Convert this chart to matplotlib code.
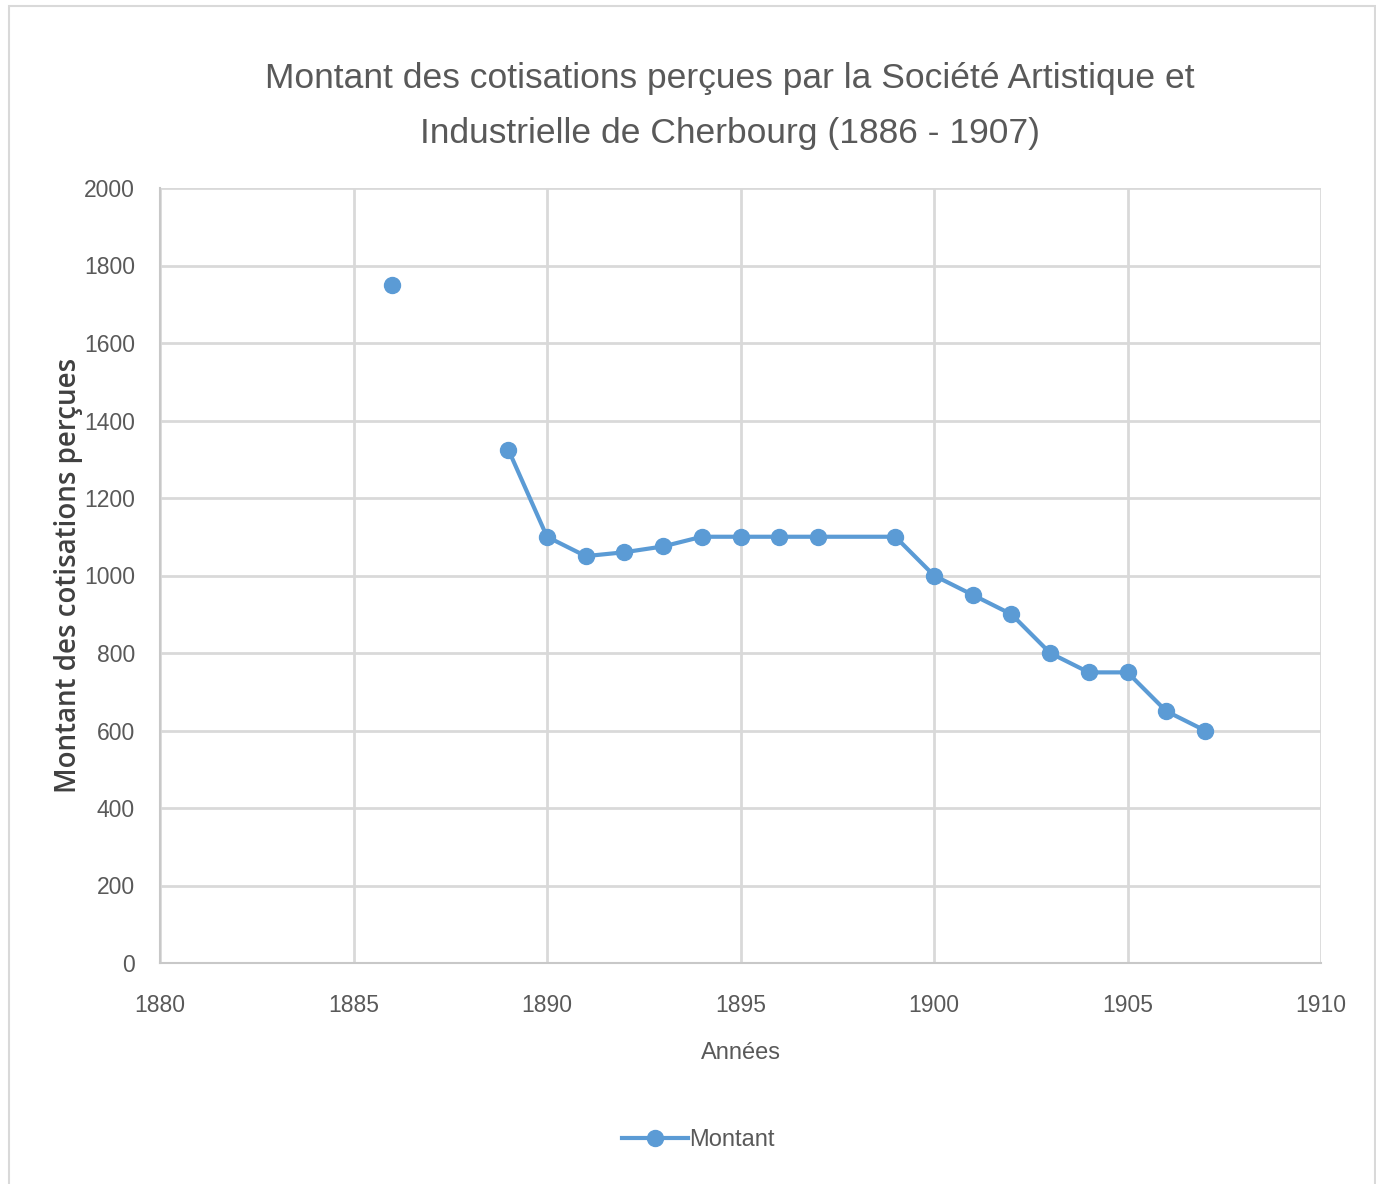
import numpy as np
import matplotlib
matplotlib.use('Agg')
import matplotlib.pyplot as plt
from matplotlib.patches import Rectangle
from matplotlib.lines import Line2D

years = [1886, 1887, 1888, 1889, 1890, 1891, 1892, 1893, 1894, 1895, 1896, 1897,
         1899, 1900, 1901, 1902, 1903, 1904, 1905, 1906, 1907]
montant = [1750, np.nan, np.nan, 1325, 1100, 1050, 1060, 1075, 1100, 1100, 1100, 1100,
           1100, 1000, 950, 900, 800, 750, 750, 650, 600]

x_ticks = [1880, 1885, 1890, 1895, 1900, 1905, 1910]
y_ticks = [0, 200, 400, 600, 800, 1000, 1200, 1400, 1600, 1800, 2000]

blue = '#5b9bd5'
grey_txt = '#595959'
grid_c = '#d9d9d9'
font = ['Liberation Sans', 'DejaVu Sans']

fig = plt.figure(figsize=(13.76, 11.84), dpi=100)
fig.patches.append(Rectangle((9/1376, -0.01), (1375-9)/1376, 1 - 6/1184 + 0.01,
                             transform=fig.transFigure, fill=False, ec='#d9d9d9', lw=1.5))

ax = fig.add_axes([160/1376, 1 - 963/1184, (1321-160)/1376, (963-188)/1184])
ax.set_xlim(1880, 1910)
ax.set_ylim(0, 2000)
ax.set_xticks(x_ticks)
ax.set_yticks(y_ticks)
ax.grid(True, color=grid_c, lw=2)
ax.set_axisbelow(True)
for s in ['top', 'right']:
    ax.spines[s].set_visible(False)
for s in ['left', 'bottom']:
    ax.spines[s].set_color('#c8c8c8')
    ax.spines[s].set_linewidth(1.5)
ax.tick_params(axis='y', length=0, pad=18, labelcolor=grey_txt, labelsize=16.5)
ax.tick_params(axis='x', length=0, pad=22, labelcolor=grey_txt, labelsize=16.5)
for lab in ax.get_xticklabels() + ax.get_yticklabels():
    lab.set_family(font)

ax.plot(years, montant, color=blue, lw=3, marker='o', markersize=11.5, zorder=3,
        clip_on=False)

ax.set_xlabel('Années', fontsize=17, color=grey_txt, family=font, labelpad=18)
ax.set_ylabel('Montant des cotisations perçues', fontsize=20, color='#404040',
              family=['Open Sans', 'DejaVu Sans'], fontweight='semibold', labelpad=1)

fig.text(730/1376, 1 - 106/1184,
         'Montant des cotisations perçues par la Société Artistique et\nIndustrielle de Cherbourg (1886 - 1907)',
         ha='center', va='center', fontsize=25.5, color=grey_txt, family=font,
         linespacing=1.85)

h = Line2D([], [], color=blue, lw=3, marker='o', markersize=11.5)
fig.legend([h], ['Montant'], loc='center', bbox_to_anchor=(698/1376, 1 - 1140/1184),
           frameon=False, prop={'family': font, 'size': 17}, labelcolor=grey_txt,
           handlelength=2.8, handletextpad=0.05)

fig.savefig('out.png', dpi=100)
